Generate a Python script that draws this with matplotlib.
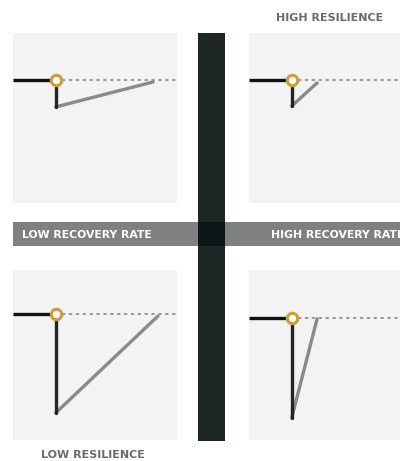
import matplotlib
matplotlib.use('Agg')
import matplotlib.pyplot as plt
from matplotlib.patches import Rectangle

# 四个象限：恢复速度（低/高） x 韧性（高/低）
panel_names = ['low_rate_high_res', 'high_rate_high_res', 'low_rate_low_res', 'high_rate_low_res']
t_disrupt = [26, 26, 26, 26]           # 扰动发生时刻
baseline = [72.4, 72.4, 74.1, 71.8]    # 正常性能水平
drop_level = [56.5, 57.0, 15.9, 12.9]  # 扰动后性能
t_recover = [85.4, 41.5, 88.4, 41.5]   # 恢复完成时刻
recover_level = [71.2, 70.6, 72.9, 71.2]

band_labels = ['LOW RECOVERY RATE', 'HIGH RECOVERY RATE']
top_label = 'HIGH RESILIENCE'
bottom_label = 'LOW RESILIENCE'

W, H = 400, 461
fig = plt.figure(figsize=(W / 100, H / 100), dpi=100)
fig.patch.set_facecolor('white')

font = ['DejaVu Sans']


def px_axes(x0, y0, x1, y1):
    # 像素框 -> figure 坐标
    return fig.add_axes([x0 / W, 1 - y1 / H, (x1 - x0) / W, (y1 - y0) / H])


# 背景层（横条 + 竖条）
bg = fig.add_axes([0, 0, 1, 1])
bg.set_xlim(0, W)
bg.set_ylim(H, 0)
bg.axis('off')
bg.add_patch(Rectangle((13, 222), 400, 24, color='#7e8081', lw=0, zorder=1))
bg.add_patch(Rectangle((198, 33), 27, 408, color=(0, 0.03, 0.03), alpha=0.88, lw=0, zorder=2))
bg.text(22, 234.5, band_labels[0], color='white', fontsize=7.8, fontweight='bold',
        family=font, va='center', ha='left', zorder=3)
bg.text(271, 234.5, band_labels[1], color='white', fontsize=7.8, fontweight='bold',
        family=font, va='center', ha='left', zorder=3)
bg.text(330, 18, top_label, color='#6b6b6b', fontsize=8, fontweight='bold',
        family=font, va='center', ha='center')
bg.text(93, 455, bottom_label, color='#6b6b6b', fontsize=8, fontweight='bold',
        family=font, va='center', ha='center')

boxes = [(13, 33, 177, 203), (249, 33, 413, 203), (13, 270, 177, 440), (249, 270, 413, 440)]

for i, name in enumerate(panel_names):
    ax = px_axes(*boxes[i])
    ax.set_facecolor('#f3f3f3')
    ax.set_xlim(0, 100)
    ax.set_ylim(0, 100)
    for s in ax.spines.values():
        s.set_visible(False)
    ax.set_xticks([])
    ax.set_yticks([])

    t0 = t_disrupt[i]
    # 目标水平（虚线）
    ax.plot([t0, 100], [baseline[i], baseline[i]], color='#999999', lw=1.5,
            linestyle=(0, (0.8, 2.5)), dash_capstyle='round', zorder=2)
    # 扰动前
    ax.plot([0, t0], [baseline[i], baseline[i]], color='#111111', lw=2.4,
            solid_capstyle='butt', zorder=3)
    # 恢复过程
    ax.plot([t0, t_recover[i]], [drop_level[i], recover_level[i]], color='#8a8a8a',
            lw=2.4, solid_capstyle='round', zorder=3)
    # 性能骤降
    ax.plot([t0, t0], [baseline[i], drop_level[i]], color='#1f2626', lw=2.4,
            solid_capstyle='round', zorder=4)
    # 扰动点
    ax.plot([t0], [baseline[i]], marker='o', markersize=7.5, markerfacecolor='white',
            markeredgecolor='#d19a3c', markeredgewidth=2.2, zorder=5)

fig.savefig('out.png', dpi=100)
